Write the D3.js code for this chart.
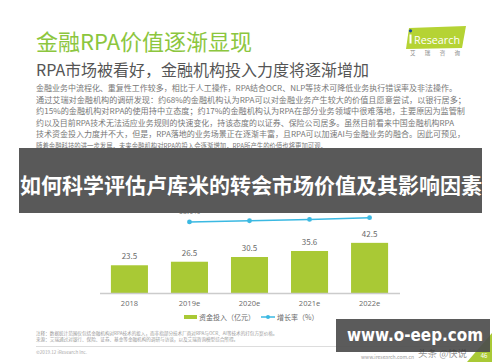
<!DOCTYPE html>
<html>
<head>
<meta charset="utf-8">
<script src="https://cdn.jsdelivr.net/npm/d3@7"></script>
<style>
  body { margin: 0; background: #fff; }
  svg { display: block; font-family: "Noto Sans CJK SC", "Noto Sans", sans-serif; }
</style>
</head>
<body>
<svg class="chart" width="500" height="362"></svg>
<script>
// data
var years = ["2018", "2019e", "2020e", "2021e", "2022e"];
var invest = [23.5, 26.5, 30.5, 35.6, 42.5];
var growthYears = ["2019e", "2020e", "2021e", "2022e"];
var growth = [13.0, 14.8, 16.8, 19.4];

var title = "金融RPA价值逐渐显现";
var subtitle = "RPA市场被看好，金融机构投入力度将逐渐增加";
var para = [
  "金融业务中流程化、重复性工作较多，相比于人工操作，RPA结合OCR、NLP等技术可降低业务执行错误率及非法操作。",
  "通过艾瑞对金融机构的调研发现：约68%的金融机构认为RPA可以对金融业务产生较大的价值且愿意尝试，以银行居多；",
  "约15%的金融机构对RPA的使用持中立态度；约17%的金融机构认为RPA在部分业务领域中很难落地，主要原因为监管制",
  "约以及目前RPA技术无法适应业务规则的快速变化，持该态度的以证券、保险公司居多。虽然目前看来中国金融机构RPA",
  "技术资金投入力度并不大，但是，RPA落地的业务场景正在逐渐丰富，且RPA可以加速AI与金融业务的融合。因此可预见，",
  "随着金融科技的进一步发展，未来金融机构对RPA的投入会逐渐增加，RPA所产生的价值也将更加可观。"
];
var notes = [
  "注释：数据统计范围仅包括金融机构对RPA技术的投入，而非指部分技术厂商对RPA与OCR、AI等技术的打包方案价格。",
  "来源：艾瑞通过对银行、保险、证券、基金等金融机构的调研与访谈，以及艾瑞咨询模型综合所得。"
];
var legendNames = ["资金投入（亿元）", "增长率（%）"];
var banner = "如何科学评估卢库米的转会市场价值及其影响因素";

var green = "#a9c935", blue = "#3bb9e2", grey = "#6a6a6a";
var svg = d3.select("svg.chart");

// header
svg.append("text").attr("x", 36).attr("y", 50)
  .attr("font-size", 22).attr("fill", "#8cc63e").text(title);
svg.append("text").attr("x", 36).attr("y", 76)
  .attr("font-size", 16).attr("fill", "#555").text(subtitle);

// iResearch logo
var logo = svg.append("g");
logo.append("path").attr("d", "M409,28 L466,26 L462,48 L406,49 Z").attr("fill", "#b5d334");
logo.append("text").attr("x", 414).attr("y", 43.5).attr("font-size", 11)
  .attr("font-family", "Open Sans, sans-serif").attr("fill", "#fff")
  .attr("textLength", 46).attr("lengthAdjust", "spacingAndGlyphs").text("Research");
logo.append("rect").attr("x", 409.5).attr("y", 34.5).attr("width", 2).attr("height", 9).attr("fill", "#fff");
logo.append("circle").attr("cx", 410.5).attr("cy", 30.8).attr("r", 1.6).attr("fill", "#1b4f9c");
logo.append("text").attr("x", 410).attr("y", 55).attr("font-size", 5.5)
  .attr("fill", "#888").attr("textLength", 50).text("艾 瑞 咨 询");

// body paragraph
var lineEnds = [457, 466, 465, 454, 465, 327];
svg.append("g").selectAll("text").data(para).enter().append("text")
  .attr("x", 36)
  .attr("y", function(d, i) { return 91 + i * 11.6; })
  .attr("font-size", 8)
  .attr("fill", "#777")
  .attr("textLength", function(d, i) { return lineEnds[i] - 36; })
  .attr("lengthAdjust", "spacingAndGlyphs")
  .text(function(d) { return d; });

// chart scales
var x = d3.scaleBand().domain(years).range([99.5, 399.5]).paddingInner(0.383).paddingOuter(0.19);
var y = d3.scaleLinear().domain([0, 50]).range([293, 234]);
var y2 = d3.scaleLinear().domain([0, 100]).range([230.7, 163.5]);

svg.append("g").selectAll("rect").data(invest).enter().append("rect")
  .attr("x", function(d, i) { return x(years[i]); })
  .attr("y", function(d) { return y(d); })
  .attr("width", x.bandwidth())
  .attr("height", function(d) { return y(0) - y(d); })
  .attr("fill", green);

svg.append("g").selectAll("text").data(invest).enter().append("text")
  .attr("x", function(d, i) { return x(years[i]) + x.bandwidth() / 2; })
  .attr("y", function(d) { return y(d) - 6; })
  .attr("text-anchor", "middle").attr("font-size", 8).attr("fill", grey)
  .text(function(d) { return d.toFixed(1); });

// axis
var axis = svg.append("g").attr("transform", "translate(0,293)")
  .call(d3.axisBottom(x).tickSize(0).tickPadding(8));
axis.select(".domain").attr("stroke", "#ccc").attr("stroke-width", 1.5);
axis.selectAll("text").attr("font-size", 7.5).attr("fill", grey)
  .attr("font-family", "Open Sans, sans-serif");

// growth line
var cx = function(i) { return x(growthYears[i]) + x.bandwidth() / 2; };
var line = d3.line().x(function(d, i) { return cx(i); }).y(function(d) { return y2(d); });
svg.append("path").datum(growth).attr("d", line)
  .attr("fill", "none").attr("stroke", blue).attr("stroke-width", 1.5);
svg.append("g").selectAll("circle").data(growth).enter().append("circle")
  .attr("cx", function(d, i) { return cx(i); })
  .attr("cy", function(d) { return y2(d); })
  .attr("r", 2.4).attr("fill", blue);
svg.append("g").selectAll("text").data(growth).enter().append("text")
  .attr("x", function(d, i) { return cx(i); })
  .attr("y", function(d) { return y2(d) - 8; })
  .attr("text-anchor", "middle").attr("font-size", 7.5).attr("fill", "#888")
  .text(function(d) { return d.toFixed(1) + "%"; });

// legend
var lg = svg.append("g").attr("font-size", 7).attr("fill", grey);
lg.append("rect").attr("x", 184).attr("y", 315).attr("width", 13).attr("height", 4).attr("fill", green);
lg.append("text").attr("x", 199).attr("y", 320).text(legendNames[0]);
lg.append("line").attr("x1", 261).attr("x2", 275).attr("y1", 317).attr("y2", 317)
  .attr("stroke", blue).attr("stroke-width", 1.5);
lg.append("circle").attr("cx", 268).attr("cy", 317).attr("r", 2).attr("fill", blue);
lg.append("text").attr("x", 277).attr("y", 320).text(legendNames[1]);

// footnotes
svg.append("g").selectAll("text").data(notes).enter().append("text")
  .attr("x", 36).attr("y", function(d, i) { return 335 + i * 5.5; })
  .attr("font-size", 4.6).attr("fill", "#999")
  .text(function(d) { return d; });
svg.append("line").attr("x1", 36).attr("x2", 470).attr("y1", 346.5).attr("y2", 346.5)
  .attr("stroke", "#ddd").attr("stroke-width", 1.2);
svg.append("text").attr("x", 36).attr("y", 354).attr("font-size", 4.6).attr("fill", "#aaa")
  .text("©2019.12 iResearch Inc.");
svg.append("text").attr("x", 414).attr("y", 359).attr("font-size", 5).attr("fill", "#999")
  .attr("text-anchor", "end").text("www.iresearch.com.cn");
svg.append("path").attr("d", "M467,362 L492,333 L492,362 Z").attr("fill", "#a9c935");
svg.append("text").attr("x", 484).attr("y", 358).attr("font-size", 6).attr("fill", "#fff")
  .attr("text-anchor", "middle").text("46");

// overlay banner
svg.append("rect").attr("x", 19).attr("y", 148).attr("width", 463).attr("height", 65)
  .attr("fill", "#595959");
svg.append("text").attr("x", 20).attr("y", 193).attr("font-size", 21)
  .attr("font-weight", "bold").attr("fill", "#fff").text(banner);

// watermark
svg.append("rect").attr("x", 336).attr("y", 319).attr("width", 154).attr("height", 33)
  .attr("fill", "#4d4d4d").attr("fill-opacity", 0.92);
svg.append("text").attr("x", 347).attr("y", 341)
  .attr("font-size", 17).attr("font-weight", "bold").attr("fill", "#fff")
  .attr("font-family", "DejaVu Sans, sans-serif")
  .attr("textLength", 136).attr("lengthAdjust", "spacingAndGlyphs").text("www.o-eep.com");
svg.append("text").attr("x", 418).attr("y", 357).attr("font-size", 9.5)
  .attr("fill", "#333").attr("fill-opacity", 0.55).text("头条 @快说");
</script>
</body>
</html>
